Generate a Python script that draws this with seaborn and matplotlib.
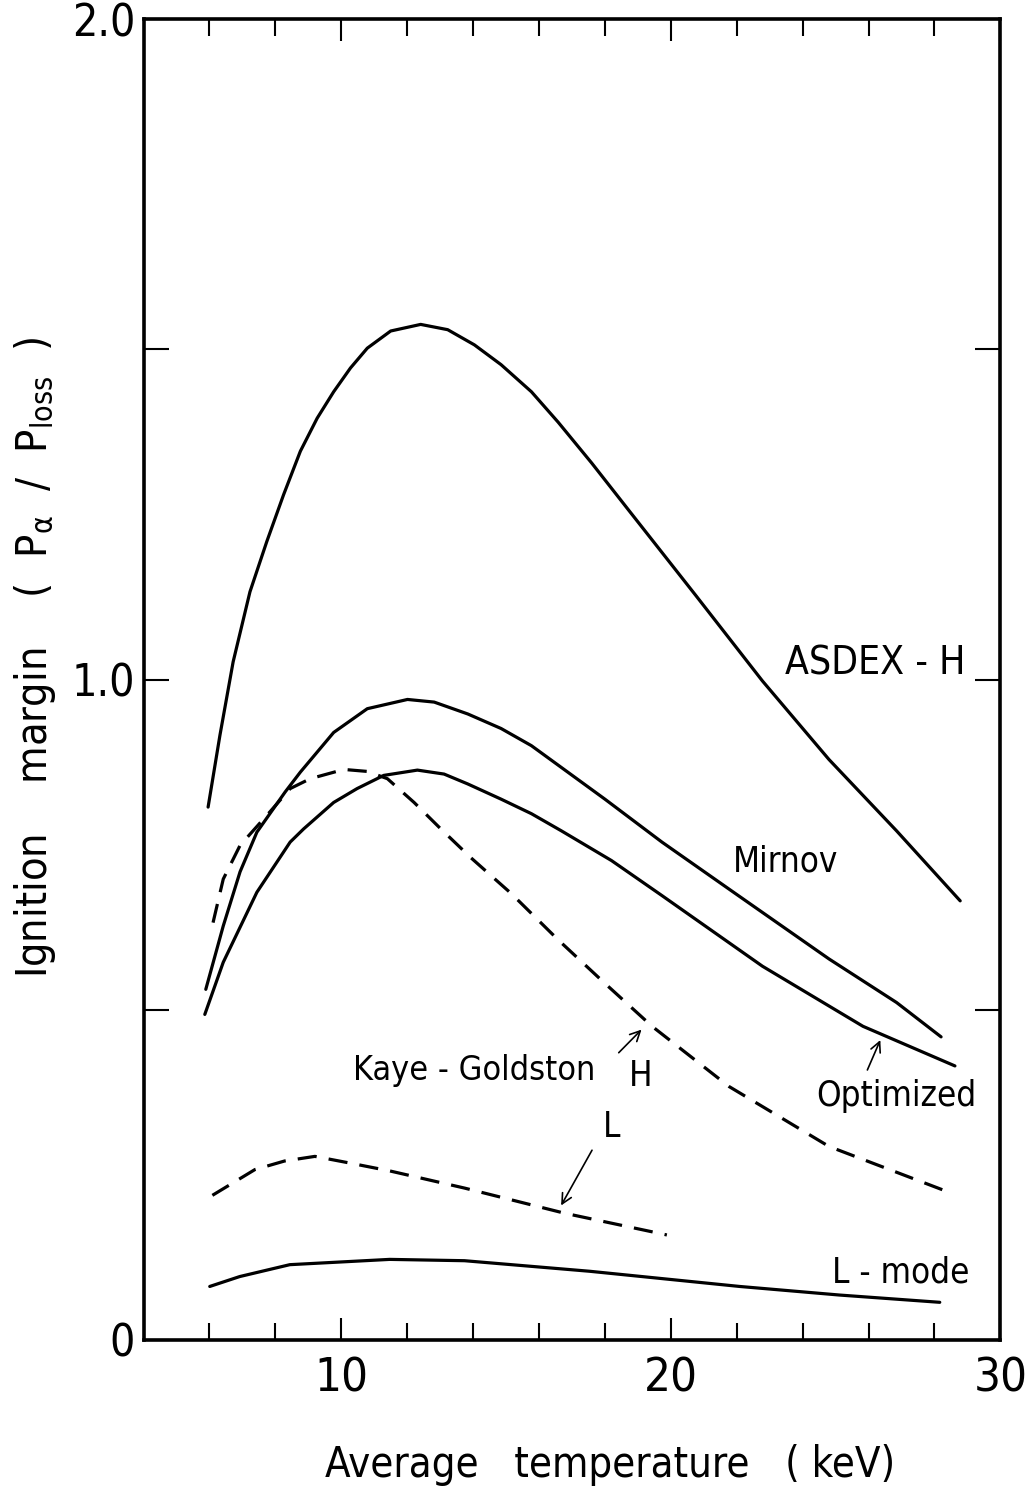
import numpy as np
import pandas as pd
import matplotlib
matplotlib.use("Agg")
import matplotlib.pyplot as plt
import seaborn as sns
from matplotlib.ticker import FixedLocator

# ---- data ----
asdex_T = [5.96, 6.32, 6.72, 7.23, 7.74, 8.25, 8.76, 9.27, 9.77, 10.28, 10.79, 11.5, 12.41,
           13.23, 14.04, 14.85, 15.77, 16.58, 17.6, 18.7, 20.75, 22.78, 24.8, 26.85, 28.78]
asdex_v = [0.807, 0.916, 1.027, 1.133, 1.209, 1.280, 1.346, 1.396, 1.436, 1.472, 1.502, 1.528, 1.538,
           1.530, 1.507, 1.477, 1.436, 1.390, 1.328, 1.258, 1.128, 0.998, 0.879, 0.771, 0.665]

mirnov_T = [5.89, 6.42, 6.93, 7.44, 8.3, 8.76, 9.77, 10.79, 12.01, 12.82, 13.84, 14.85, 15.77,
            18.0, 19.73, 21.76, 24.8, 26.85, 28.2]
mirnov_v = [0.531, 0.627, 0.709, 0.769, 0.830, 0.860, 0.920, 0.956, 0.970, 0.966, 0.948, 0.926, 0.900,
            0.819, 0.754, 0.683, 0.577, 0.511, 0.459]

optim_T = [5.86, 6.42, 7.44, 8.45, 8.86, 9.77, 10.48, 11.29, 12.31, 13.12, 13.84, 14.85, 15.77,
           16.68, 18.2, 19.73, 22.78, 25.83, 28.62]
optim_v = [0.493, 0.572, 0.678, 0.754, 0.774, 0.814, 0.835, 0.855, 0.863, 0.857, 0.842, 0.819, 0.797,
           0.771, 0.726, 0.673, 0.566, 0.475, 0.415]

kgH_T = [6.11, 6.42, 6.93, 7.84, 8.45, 9.06, 10.08, 10.79, 11.4, 12.21, 13.02, 13.94, 15.16,
         16.58, 18.0, 19.43, 21.76, 24.8, 28.37]
kgH_v = [0.632, 0.698, 0.749, 0.800, 0.835, 0.850, 0.864, 0.861, 0.850, 0.814, 0.774, 0.730, 0.676,
         0.606, 0.540, 0.475, 0.384, 0.293, 0.225]

kgL_T = [6.09, 7.38, 8.28, 9.2, 10.25, 11.47, 13.74, 16.77, 19.88]
kgL_v = [0.219, 0.258, 0.271, 0.278, 0.268, 0.256, 0.230, 0.192, 0.159]

lmode_T = [6.01, 6.92, 8.44, 11.47, 13.74, 17.54, 22.09, 25.12, 28.16]
lmode_v = [0.081, 0.096, 0.114, 0.122, 0.120, 0.104, 0.081, 0.068, 0.057]

x_major = [10, 20, 30]
x_minor = [6, 8, 12, 14, 16, 18, 22, 24, 26, 28]
y_ticks = [0, 0.5, 1.0, 1.5, 2.0]
y_labels = ["0", "", "1.0", "", "2.0"]

# ---- style ----
sns.set_theme(style="ticks")
plt.rcParams["font.family"] = ["DejaVu Sans"]
plt.rcParams["font.stretch"] = "condensed"
plt.rcParams["mathtext.default"] = "regular"
for k in ["text.color", "axes.labelcolor", "xtick.color", "ytick.color", "axes.edgecolor"]:
    plt.rcParams[k] = "black"

fig = plt.figure(figsize=(10.25, 14.88), dpi=100)
ax = fig.add_axes([0.14, 0.0995, 0.836, 0.8875])

LW = 2.3
solid = [(asdex_T, asdex_v), (mirnov_T, mirnov_v), (optim_T, optim_v), (lmode_T, lmode_v)]
dashed = [(kgH_T, kgH_v), (kgL_T, kgL_v)]
for T, v in solid:
    df = pd.DataFrame({"T": T, "v": v})
    sns.lineplot(data=df, x="T", y="v", ax=ax, color="black", linewidth=LW, sort=False,
                 solid_joinstyle="round", solid_capstyle="round")
for T, v in dashed:
    df = pd.DataFrame({"T": T, "v": v})
    sns.lineplot(data=df, x="T", y="v", ax=ax, color="black", linewidth=LW, sort=False,
                 linestyle=(0, (6, 3.8)))

ax.set_xlim(4, 30)
ax.set_ylim(0, 2.0)

ax.xaxis.set_major_locator(FixedLocator(x_major))
ax.xaxis.set_minor_locator(FixedLocator(x_minor))
ax.set_xticklabels([str(t) for t in x_major])
ax.yaxis.set_major_locator(FixedLocator(y_ticks))
ax.set_yticklabels(y_labels)

ax.tick_params(axis="both", which="both", direction="in", top=True, right=True)
ax.tick_params(axis="x", which="major", length=16, width=1.5, labelsize=34, pad=12)
ax.tick_params(axis="x", which="minor", length=12, width=1.5)
ax.tick_params(axis="y", which="major", length=18, width=1.5, labelsize=32, pad=6)

for s in ax.spines.values():
    s.set_linewidth(2.6)

ax.set_xlabel("Average   temperature   ( keV)", fontsize=30)
ax.xaxis.set_label_coords(0.545, -0.079)
ax.set_ylabel(r"Ignition    margin    (  P$_\alpha$  /  P$_{loss}$  )", fontsize=31)
ax.yaxis.set_label_coords(-0.1, 0.517)

ax.text(23.45, 1.025, "ASDEX - H", fontsize=28, ha="left", va="center")
tfs = 25
ax.text(21.87, 0.725, "Mirnov", fontsize=tfs, ha="left", va="center")
ax.text(24.4, 0.369, "Optimized", fontsize=tfs, ha="left", va="center")
ax.text(10.37, 0.408, "Kaye - Goldston", fontsize=24.5, ha="left", va="center")
ax.text(18.72, 0.399, "H", fontsize=tfs, ha="left", va="center")
ax.text(17.95, 0.322, "L", fontsize=tfs, ha="left", va="center")
ax.text(24.9, 0.102, "L - mode", fontsize=tfs, ha="left", va="center")

arrow = dict(arrowstyle="->", color="black", lw=1.2, mutation_scale=18)
ax.annotate("", xy=(19.17, 0.473), xytext=(18.36, 0.432), arrowprops=arrow)
ax.annotate("", xy=(16.63, 0.200), xytext=(17.65, 0.291), arrowprops=arrow)
ax.annotate("", xy=(26.39, 0.458), xytext=(25.93, 0.405), arrowprops=arrow)

fig.savefig("out.png", dpi=100, facecolor="white")
